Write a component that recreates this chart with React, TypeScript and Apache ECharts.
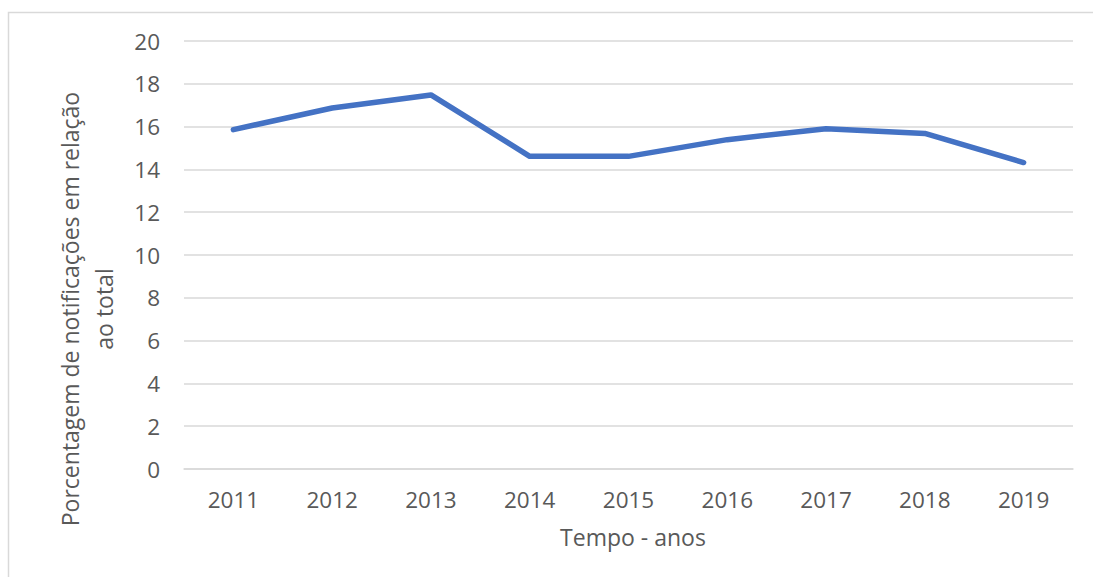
import React, { useEffect, useRef } from "react";
import * as echarts from "echarts";

const years = ["2011", "2012", "2013", "2014", "2015", "2016", "2017", "2018", "2019"];
const percentages = [15.86, 16.87, 17.48, 14.61, 14.61, 15.39, 15.9, 15.68, 14.32];
const yTitle = "Porcentagem de notificações em relação";
const yTitle2 = "ao total";
const xTitle = "Tempo - anos";

const FONT = "'Open Sans', 'Noto Sans', sans-serif";
const GRAY = "#595959";

export default function App() {
  const ref = useRef<HTMLDivElement>(null);
  useEffect(() => {
    if (!ref.current) return;
    const chart = echarts.init(ref.current, null, { renderer: "svg" });
    chart.setOption({
      animation: false,
      backgroundColor: "#ffffff",
      grid: { left: 184, right: 20, top: 41, bottom: 108, containLabel: false },
      xAxis: {
        type: "category",
        data: years,
        boundaryGap: true,
        axisLine: { show: true, lineStyle: { color: "#d9d9d9", width: 1.5 } },
        axisTick: { show: false },
        axisLabel: { color: GRAY, fontSize: 22.5, fontFamily: FONT, margin: 19 },
      },
      yAxis: {
        type: "value",
        min: 0,
        max: 20,
        interval: 2,
        axisLine: { show: false },
        axisTick: { show: false },
        splitLine: { lineStyle: { color: "#d9d9d9", width: 1.5 } },
        axisLabel: { color: GRAY, fontSize: 22.5, fontFamily: FONT, margin: 24 },
      },
      series: [
        {
          type: "line",
          data: percentages,
          symbol: "none",
          lineStyle: { color: "#4472C4", width: 5.5, cap: "round", join: "round" },
          itemStyle: { color: "#4472C4" },
        },
      ],
      graphic: [
        {
          type: "rect",
          shape: { x: 8.5, y: 12.5, width: 1200, height: 700 },
          style: { fill: "none", stroke: "#d9d9d9", lineWidth: 1.5 },
          silent: true,
        },
        {
          type: "text",
          x: 70,
          y: 309,
          rotation: Math.PI / 2,
          style: {
            text: yTitle,
            fill: GRAY,
            fontSize: 23,
            fontFamily: FONT,
            align: "center",
            verticalAlign: "middle",
          },
        },
        {
          type: "text",
          x: 104,
          y: 309,
          rotation: Math.PI / 2,
          style: {
            text: yTitle2,
            fill: GRAY,
            fontSize: 23,
            fontFamily: FONT,
            align: "center",
            verticalAlign: "middle",
          },
        },
        {
          type: "text",
          x: 633,
          y: 537,
          style: {
            text: xTitle,
            fill: GRAY,
            fontSize: 23,
            fontFamily: FONT,
            align: "center",
            verticalAlign: "middle",
          },
        },
      ],
    });
    return () => chart.dispose();
  }, []);
  return (
    <div
      ref={ref}
      style={{ position: "fixed", left: 0, top: 0, width: 1093, height: 577 }}
    />
  );
}
